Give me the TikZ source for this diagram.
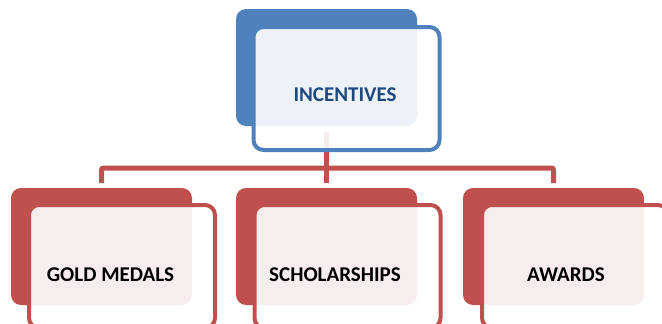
\documentclass[tikz,border=0pt]{standalone}
\usepackage{fontspec}
\setmainfont{Carlito}
\definecolor{accblue}{HTML}{4F81BD}
\definecolor{accred}{HTML}{C0504D}
\definecolor{txtblue}{HTML}{1F497D}
\begin{document}
\begin{tikzpicture}[x=1pt,y=-1pt,
  backbox/.style={rectangle, rounded corners=10pt, minimum width=181pt, minimum height=117pt, inner sep=0pt, outer sep=0pt},
  frontbox/.style={rectangle, rounded corners=10pt, minimum width=186pt, minimum height=123pt, inner sep=0pt, outer sep=0pt, line width=4pt, fill=white, fill opacity=0.9, draw opacity=1},
  lbl/.style={font=\bfseries\fontsize{21}{24}\selectfont, inner sep=0pt},
  conn/.style={draw=accred, line width=5pt, rounded corners=2pt}]
\useasboundingbox (0,0) rectangle (662,324);
% back boxes
\node[backbox, fill=accblue] (inc) at (326.5,67.5) {};
\node[backbox, fill=accred] (gold) at (101.5,246.5) {};
\node[backbox, fill=accred] (schol) at (326.5,246.5) {};
\node[backbox, fill=accred] (awd) at (553.5,246.5) {};
% connectors
\draw[conn] ([yshift=-6pt]inc.south) -- ([yshift=5pt]schol.north);
\draw[conn] ([yshift=5pt]gold.north) -- ([yshift=20pt]gold.north) -- ([yshift=20pt]awd.north) -- ([yshift=5pt]awd.north);
% front boxes
\node[frontbox, draw=accblue] (incF) at (346.5,88.5) {};
\node[frontbox, draw=accred] (goldF) at (122,266.5) {};
\node[frontbox, draw=accred] (scholF) at (347.5,266.5) {};
\node[frontbox, draw=accred] (awdF) at (575,266.5) {};
% labels
\node[lbl, text=txtblue] (incT) at (345,95) {INCENTIVES};
\node[lbl] (goldT) at (110.5,275) {GOLD MEDALS};
\node[lbl] (scholT) at (335,275) {SCHOLARSHIPS};
\node[lbl] (awdT) at (566,275) {AWARDS};
\end{tikzpicture}
\end{document}
